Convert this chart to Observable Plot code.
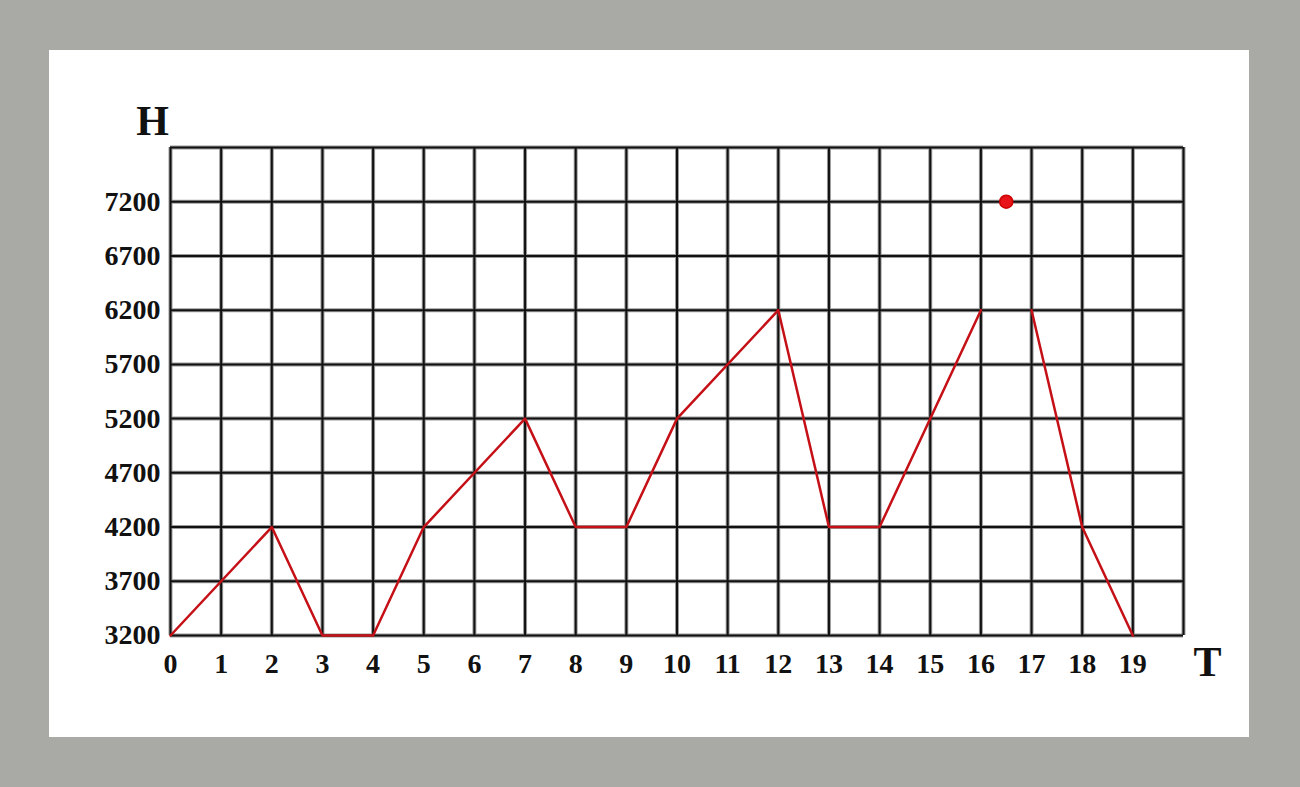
<!DOCTYPE html>
<html><head><meta charset="utf-8">
<script src="https://cdn.jsdelivr.net/npm/d3@7"></script>
<script src="https://cdn.jsdelivr.net/npm/@observablehq/plot@0.6"></script>
<style>
html,body{margin:0;padding:0;background:#a9a9a5;width:1300px;height:787px;overflow:hidden}
#panel{position:absolute;left:49px;top:50px;width:1200px;height:687px;background:#fff}
</style></head><body>
<div id="panel"></div>
<script>
const T = [0, 2, 3, 4, 5, 7, 8, 9, 10, 12, 13, 14, 16, 17, 18, 19];
const H = [3200, 4200, 3200, 3200, 4200, 5200, 4200, 4200, 5200, 6200, 4200, 4200, 6200, 6200, 4200, 3200];
const segment = [1, 1, 1, 1, 1, 1, 1, 1, 1, 1, 1, 1, 1, 2, 2, 2];
const pointT = [16.5];
const pointH = [7200];
const xTicks = [0,1,2,3,4,5,6,7,8,9,10,11,12,13,14,15,16,17,18,19];
const yTicks = [3200,3700,4200,4700,5200,5700,6200,6700,7200];
const xGrid = d3.range(0, 21);
const yGrid = d3.range(3200, 7701, 500);

const line = T.map((t, i) => ({t, h: H[i], s: segment[i]}));
const pts = pointT.map((t, i) => ({t, h: pointH[i]}));

const font = "'Liberation Serif', 'DejaVu Serif', serif";
const chart = Plot.plot({
  width: 1200, height: 687,
  marginLeft: 121, marginTop: 97, marginRight: 66, marginBottom: 102,
  x: {domain: [0, 20], axis: null},
  y: {domain: [3200, 7700], axis: null},
  style: {background: "transparent", fontFamily: font},
  marks: [
    Plot.ruleX(xGrid, {x: d => d, stroke: "#9a9a9a", strokeWidth: 4}),
    Plot.ruleY(yGrid, {y: d => d, stroke: "#9a9a9a", strokeWidth: 4}),
    Plot.ruleX(xGrid, {x: d => d, stroke: "#111", strokeWidth: 2}),
    Plot.ruleY(yGrid, {y: d => d, stroke: "#111", strokeWidth: 2}),
    Plot.line(line, {x: "t", y: "h", z: "s", stroke: "#c41016", strokeWidth: 2.5}),
    Plot.dot(pts, {x: "t", y: "h", r: 6.5, fill: "#e8141a", stroke: "#c00"}),
    Plot.text(yTicks, {x: 0, y: d => d, text: d => String(d), dx: -10, textAnchor: "end", fontSize: 28, fontWeight: "bold", fill: "#111"}),
    Plot.text(xTicks, {x: d => d, y: 3200, text: d => String(d), dy: 29, fontSize: 28, fontWeight: "bold", fill: "#111"}),
    Plot.text(["H"], {x: 0, y: 7700, text: d => d, dx: -18, dy: -26, fontSize: 42, fontWeight: "bold", fill: "#111"}),
    Plot.text(["T"], {x: 20, y: 3200, text: d => d, dx: 24, dy: 27, fontSize: 42, fontWeight: "bold", fill: "#111"})
  ]
});
document.getElementById("panel").appendChild(chart);
</script>
</body></html>
